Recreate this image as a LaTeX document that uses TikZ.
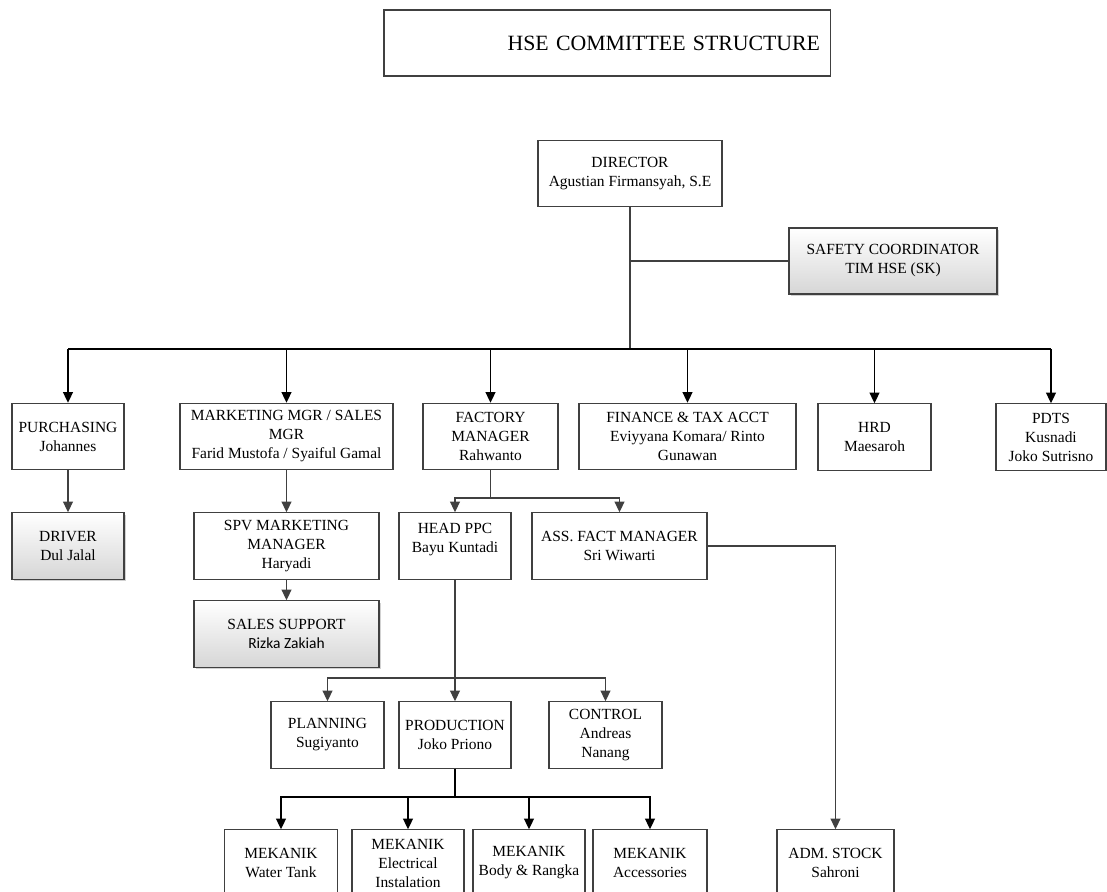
\documentclass[tikz,border=0pt]{standalone}
\usepackage{fontspec}
\setmainfont{Liberation Serif}
\newfontfamily\calibri{Carlito}
\usetikzlibrary{arrows.meta,shadows}

\definecolor{edge}{HTML}{404040}
\definecolor{shadebot}{HTML}{D6D6D6}
\newcommand\bodyfont{\fontsize{11}{13.5}\selectfont}

\begin{document}
\begin{tikzpicture}[x=0.025cm,y=-0.025cm,>={Triangle[length=7.5pt,width=7pt]},
  box/.style={draw=edge,line width=0.8pt,align=center,font=\bodyfont,inner sep=2pt,minimum height=1.66cm},
  shadebox/.style={box,top color=white,bottom color=shadebot,
    drop shadow={shadow xshift=1.6pt,shadow yshift=-1.6pt,fill=black!30,opacity=0.6}},
  link/.style={draw=edge,line width=0.9pt},
  arr/.style={link,->},
  mainline/.style={draw=black,line width=1pt},
  mainarr/.style={mainline,->}]

\useasboundingbox (0,0) rectangle (1107,892);

% title
\node[draw=edge,line width=0.8pt,minimum width=11.15cm,minimum height=1.65cm,text width=10.65cm,
  inner xsep=0.25cm,align=right,font=\fontsize{15.5}{18}\selectfont] (title) at (607,43) {HSE COMMITTEE STRUCTURE};

% top
\node[box,minimum width=4.6cm] (dir) at (630,173.5) {DIRECTOR\\Agustian Firmansyah, S.E};
\node[shadebox,minimum width=5.2cm,minimum height=1.65cm] (saf) at (893,261) {SAFETY COORDINATOR\\TIM HSE (SK)};

% second row
\node[box,minimum width=2.8cm] (pur) at (68,436.5) {PURCHASING\\Johannes};
\node[box,minimum width=5.325cm] (mkt) at (286.5,436.5) {MARKETING MGR / SALES\\MGR\\Farid Mustofa / Syaiful Gamal};
\node[box,minimum width=3.375cm] (fac) at (490.5,436.5) {FACTORY\\MANAGER\\Rahwanto};
\node[box,minimum width=5.425cm] (fin) at (687.5,436.5) {FINANCE \& TAX ACCT\\Eviyyana Komara/ Rinto\\Gunawan};
\node[box,minimum width=2.825cm] (hrd) at (874.5,437) {HRD\\Maesaroh};
\node[box,minimum width=2.75cm] (pdts) at (1051,437) {PDTS\\Kusnadi\\Joko Sutrisno};

% third row
\node[shadebox,minimum width=2.8cm] (drv) at (68,546) {DRIVER\\Dul Jalal};
\node[box,minimum width=4.625cm] (spv) at (286.5,546) {SPV MARKETING\\MANAGER\\Haryadi};
\node[shadebox,minimum width=4.625cm] (sls) at (286.5,634) {SALES SUPPORT\\{\calibri Rizka Zakiah}};
\node[box,minimum width=2.8cm] (hppc) at (455,546) {HEAD PPC\\Bayu Kuntadi\\[-2pt]\mbox{}};
\node[box,minimum width=4.375cm] (ass) at (619.5,546) {ASS. FACT MANAGER\\Sri Wiwarti};

% ppc
\node[box,minimum width=2.825cm] (plan) at (327.5,735) {PLANNING\\Sugiyanto};
\node[box,minimum width=2.8cm] (prod) at (455,735) {PRODUCTION\\Joko Priono};
\node[box,minimum width=2.825cm] (ctrl) at (605.5,735) {CONTROL\\Andreas\\Nanang};

% mekanik
\node[box,minimum width=2.825cm] (mk1) at (281,863) {MEKANIK\\Water Tank};
\node[box,minimum width=2.8cm] (mk2) at (408,863) {MEKANIK\\Electrical\\Instalation};
\node[box,minimum width=2.8cm] (mk3) at (529,863) {MEKANIK\\Body \& Rangka};
\node[box,minimum width=2.85cm] (mk4) at (650,863) {MEKANIK\\Accessories};
\node[box,minimum width=2.925cm] (adm) at (835.5,863) {ADM. STOCK\\Sahroni};

% connectors
\coordinate (bus) at (630,349);
\coordinate (fsplit) at (490.5,498);
\coordinate (psplit) at (455,678);
\coordinate (msplit) at (455,797);

\draw[link] (dir.south) -- (bus);
\draw[link] (dir.south |- saf.west) -- (saf.west);
\draw[mainline] (pur.north |- bus) -- (pdts.north |- bus);
\foreach \n in {pur,mkt,fac,fin,hrd,pdts}
  \draw[mainarr] (\n.north |- bus) -- (\n.north);

\draw[arr] (pur) -- (drv);
\draw[arr] (mkt) -- (spv);
\draw[arr] (spv) -- (sls);

\draw[link] (fac.south) -- (fsplit);
\draw[arr] (fsplit) -| (hppc.north);
\draw[arr] (fsplit) -| (ass.north);
\draw[arr] (ass.east) -| (adm.north);

\draw[arr] (hppc) -- (prod);
\draw[arr] (psplit) -| (plan.north);
\draw[arr] (psplit) -| (ctrl.north);

\draw[mainline] (prod) -- (msplit);
\foreach \n in {mk1,mk2,mk3,mk4}
  \draw[mainarr] (msplit) -| (\n.north);

\end{tikzpicture}
\end{document}
